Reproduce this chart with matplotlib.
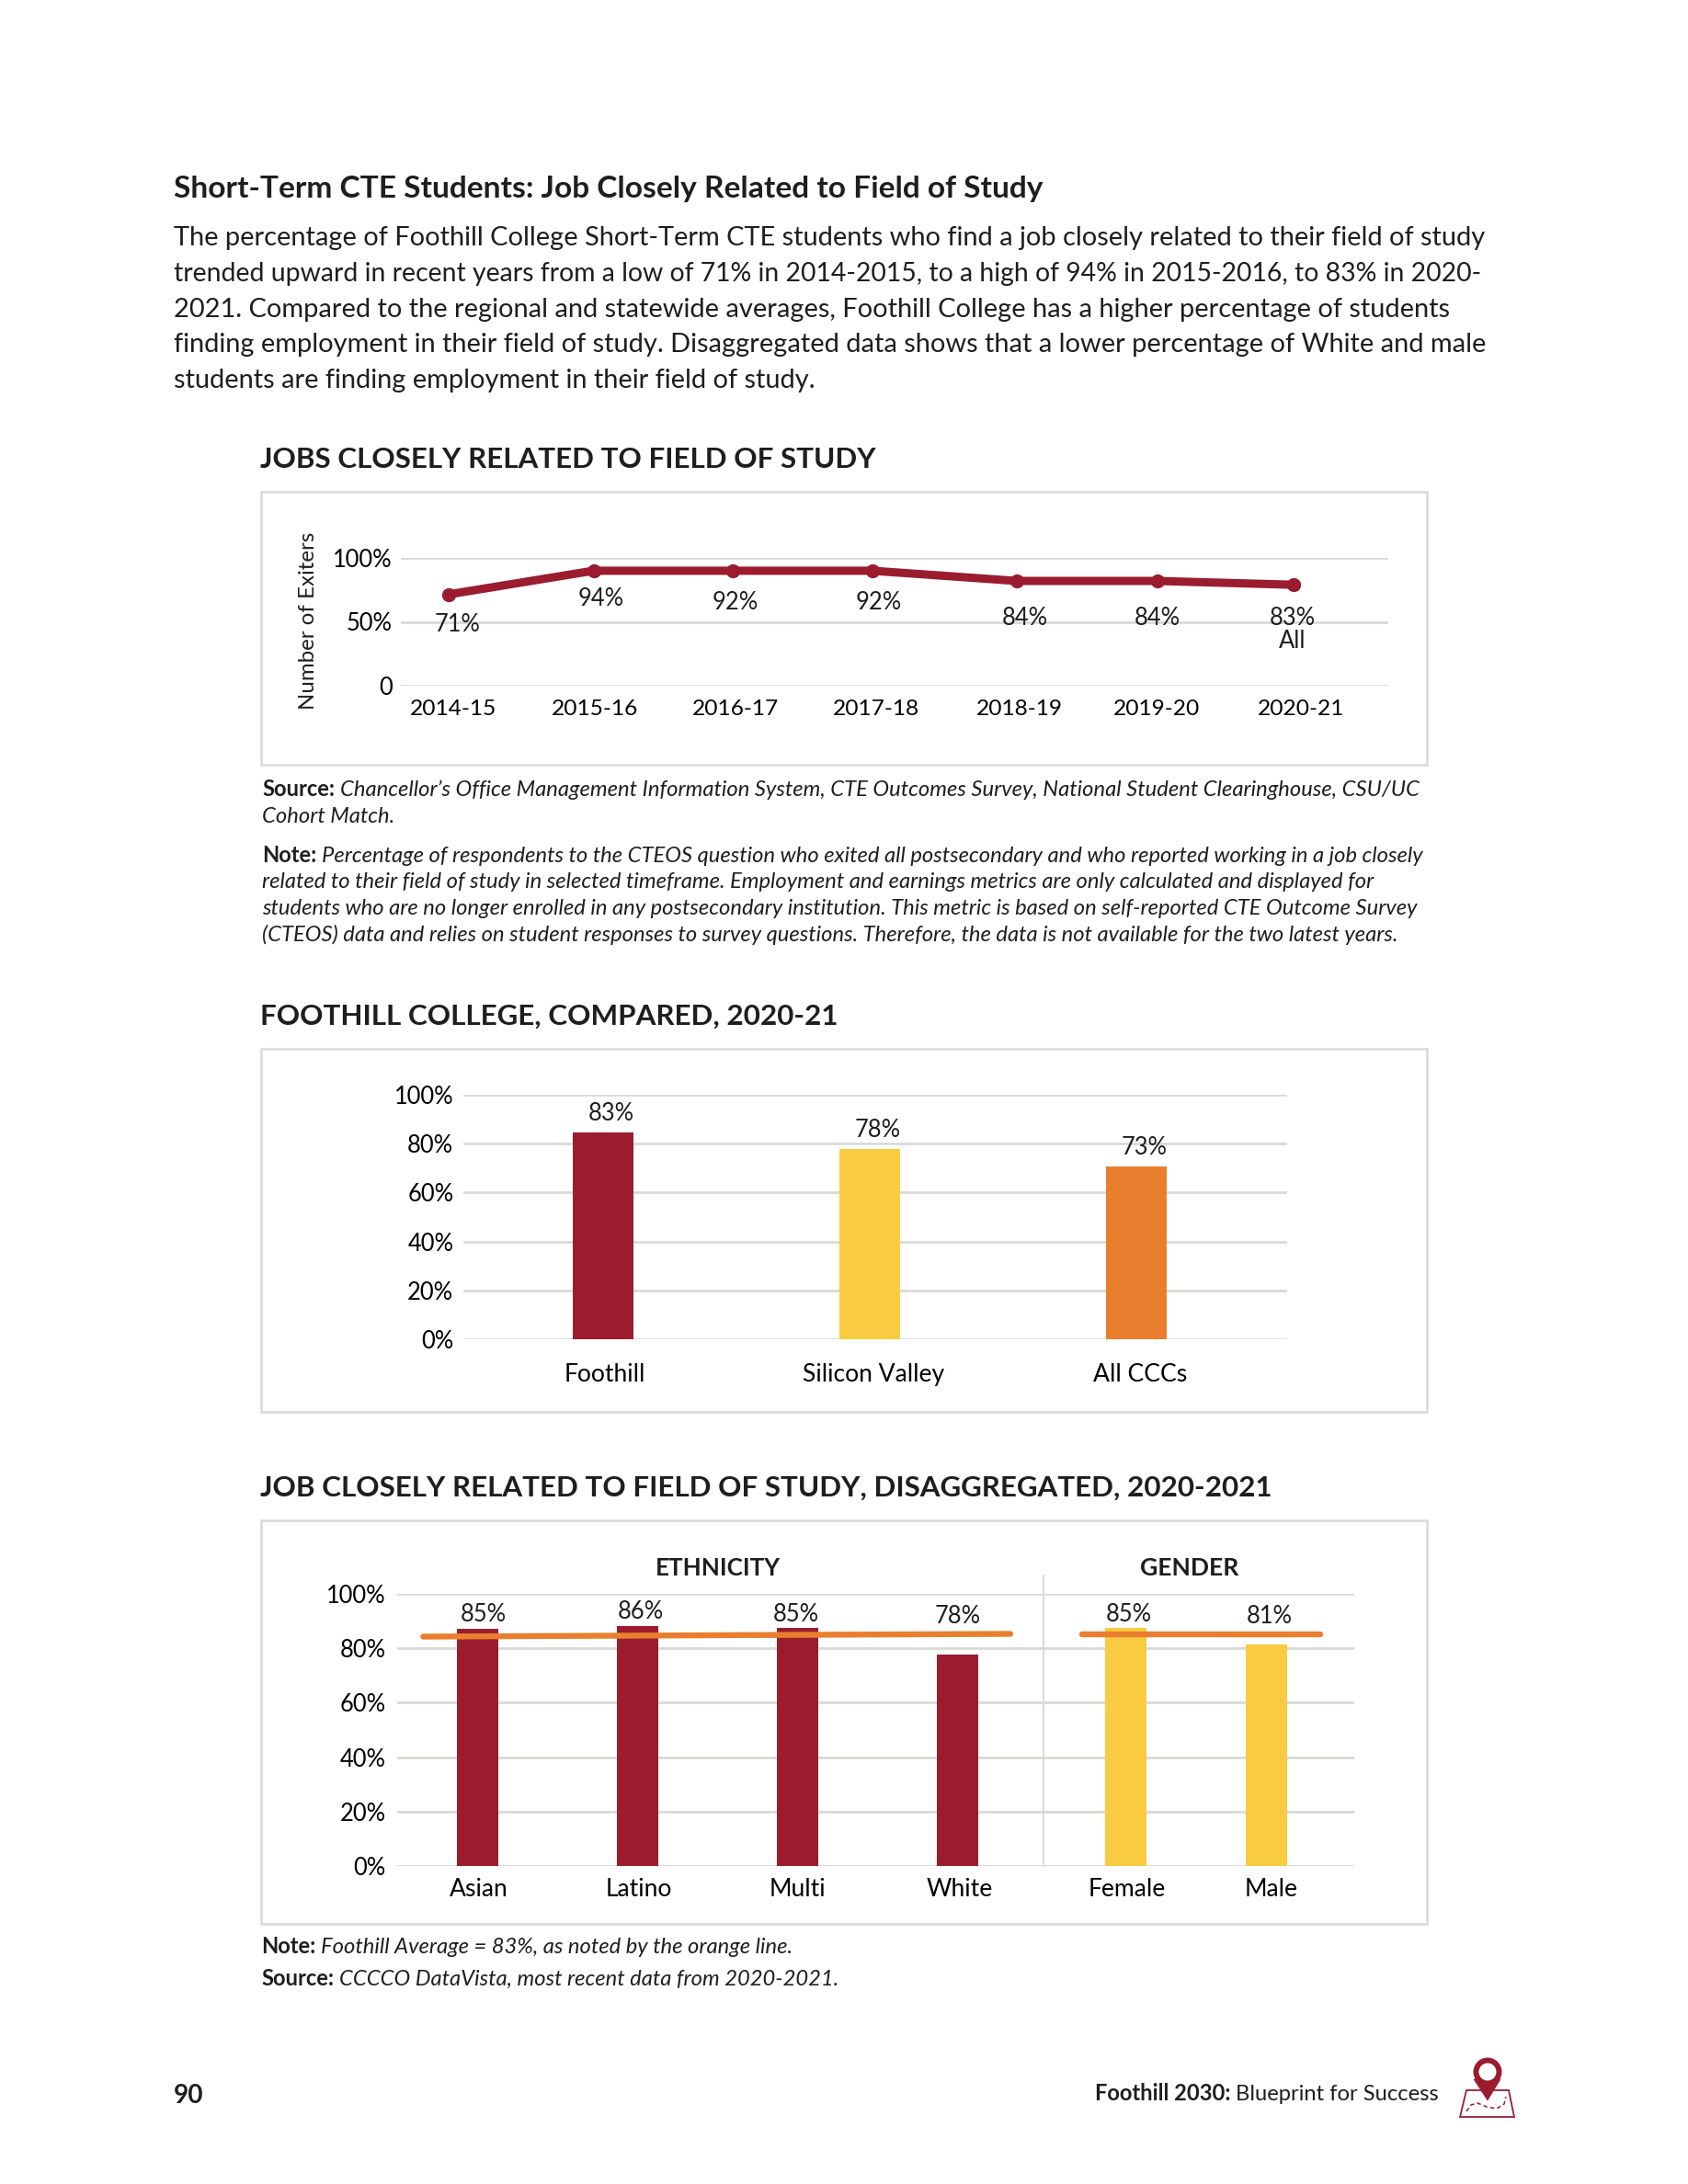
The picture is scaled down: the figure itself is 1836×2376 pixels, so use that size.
#!/usr/bin/env python3

import matplotlib
matplotlib.use('Agg')
import matplotlib.pyplot as plt
from matplotlib.patches import Circle, Polygon, Rectangle

# ---- data ----
trend_years = ['2014-15', '2015-16', '2016-17', '2017-18', '2018-19', '2019-20', '2020-21']
trend_line = [71.5, 90, 90, 90, 82, 82, 79]
trend_labels = ['71%', '94%', '92%', '92%', '84%', '84%', '83%']

compare_names = ['Foothill', 'Silicon Valley', 'All CCCs']
compare_bars = [84.7, 77.8, 70.5]
compare_labels = ['83%', '78%', '73%']

group_names = ['Asian', 'Latino', 'Multi', 'White', 'Female', 'Male']
group_bars = [87, 88.1, 87.4, 77.6, 87.4, 81.4]
group_labels = ['85%', '86%', '85%', '78%', '85%', '81%']
avg_ethnicity = [84.3, 85.3]
avg_gender = [85.3, 85.3]

body_lines = [
    'The percentage of Foothill College Short-Term CTE students who find a job closely related to their field of study',
    'trended upward in recent years from a low of 71% in 2014-2015, to a high of 94% in 2015-2016, to 83% in 2020-',
    '2021. Compared to the regional and statewide averages, Foothill College has a higher percentage of students',
    'finding employment in their field of study. Disaggregated data shows that a lower percentage of White and male',
    'students are finding employment in their field of study.',
]
source_1 = ['Chancellor\u2019s Office Management Information System, CTE Outcomes Survey, National Student Clearinghouse, CSU/UC',
            'Cohort Match.']
note_1 = ['Percentage of respondents to the CTEOS question who exited all postsecondary and who reported working in a job closely',
          'related to their field of study in selected timeframe. Employment and earnings metrics are only calculated and displayed for',
          'students who are no longer enrolled in any postsecondary institution. This metric is based on self-reported CTE Outcome Survey',
          '(CTEOS) data and relies on student responses to survey questions. Therefore, the data is not available for the two latest years.']

# ---- style ----
RED = '#9B1C2E'
YELLOW = '#F9CB40'
ORANGE = '#E97F2E'
GRID = '#D9D9D5'
INK = '#1E1E1E'
W, H = 1836, 2376

plt.rcParams['font.family'] = ['Lato', 'DejaVu Sans']
plt.rcParams['text.color'] = INK

fig = plt.figure(figsize=(W / 100, H / 100), dpi=100)
page = fig.add_axes([0, 0, 1, 1])
page.set_xlim(0, W)
page.set_ylim(H, 0)
page.axis('off')


def px(size):
    return size * 0.72


def put(x, y, s, size, **kw):
    return page.text(x, y, s, fontsize=px(size), va='baseline', **kw)


def put_runs(x, y, runs, size):
    # bold lead-in followed by italic text on the same baseline
    rend = fig.canvas.get_renderer()
    for s, kw in runs:
        t = put(x, y, s, size, **kw)
        x = page.transData.inverted().transform(t.get_window_extent(rend).corners()[2])[0] + size * 0.25


def chart_axes(x0, x1, y_top, y_bottom, ymax):
    ax = fig.add_axes([x0 / W, 1 - y_bottom / H, (x1 - x0) / W, (y_bottom - y_top) / H])
    ax.patch.set_alpha(0)
    for s in ax.spines.values():
        s.set_visible(False)
    ax.set_ylim(0, ymax)
    ax.tick_params(length=0)
    ax.grid(True, axis='y', color=GRID, linewidth=2)
    ax.set_axisbelow(True)
    return ax


def box(y0, y1):
    page.add_patch(Rectangle((284, y0), 1268, y1 - y0, fc='white', ec=GRID, lw=1.8))


# ---- page text ----
put(189, 215, 'Short-Term CTE Students: Job Closely Related to Field of Study', 33.5, fontweight='bold')
body_sizes = [29, 28.4, 29, 29, 29]
for yy, line, sz in zip([267, 306, 345, 383, 422], body_lines, body_sizes):
    put(189, yy, line, sz)

put(283, 509, 'JOBS CLOSELY RELATED TO FIELD OF STUDY', 31.4, fontweight='bold')
put(283, 1115, 'FOOTHILL COLLEGE, COMPARED, 2020-21', 31.4, fontweight='bold')
put(283, 1628, 'JOB CLOSELY RELATED TO FIELD OF STUDY, DISAGGREGATED, 2020-2021', 31.4, fontweight='bold')

put_runs(285, 866, [('Source:', dict(fontweight='bold')), (source_1[0], dict(style='italic'))], 23.7)
put(285, 895, source_1[1], 23.7, style='italic')
put_runs(285, 938, [('Note:', dict(fontweight='bold')), (note_1[0], dict(style='italic'))], 23.7)
for yy, line in zip([966, 995, 1024], note_1[1:]):
    put(285, yy, line, 23.7, style='italic')
put_runs(284, 2125, [('Note:', dict(fontweight='bold')), ('Foothill Average = 83%, as noted by the orange line.', dict(style='italic'))], 23.7)
put_runs(284, 2160, [('Source:', dict(fontweight='bold')), ('CCCCO DataVista, most recent data from 2020-2021.', dict(style='italic'))], 23.7)

# ---- line chart ----
box(535, 832)
ax1 = chart_axes(436, 1510, 607, 746, 100)
x1 = list(range(len(trend_years)))
point_nudge = [0, 0.03, 0.02, 0.01, 0.04, 0.04, 0.01]
ax1.set_xlim(-0.34, 6.68)
ax1.plot([a + b for a, b in zip(x1, point_nudge)], trend_line, color=RED, linewidth=6.5,
         marker='o', markersize=10, clip_on=False)
ax1.set_yticks([0, 50, 100])
ax1.set_yticklabels(['0', '50%', '100%'], fontsize=px(25.5))
ax1.tick_params(axis='y', pad=6.5)
tick_nudge = [0.03, 0.04, 0.04, 0.04, 0.06, 0.03, 0.06]
ax1.set_xticks([a + b for a, b in zip(x1, tick_nudge)])
ax1.set_xticklabels(trend_years, fontsize=px(24.5))
ax1.tick_params(axis='x', pad=11)
label_y = [47.5, 68, 65, 65, 53, 53, 53]
label_nudge = [0.06, 0.08, 0.04, 0.06, 0.10, 0.04, 0]
for xx, nn, yy, lab in zip(x1, label_nudge, label_y, trend_labels):
    ax1.text(xx + nn, yy, lab, ha='center', va='center', fontsize=px(25.5))
ax1.text(6.0, 35, 'All', ha='center', va='center', fontsize=px(25.5))
page.text(335, 675, 'Number of Exiters', rotation=90, ha='center', va='center', fontsize=px(24))

# ---- compare chart ----
box(1141, 1536)
ax2 = chart_axes(504, 1400, 1191, 1457, 100)
x2 = list(range(len(compare_names)))
ax2.set_xlim(-0.524, 2.566)
ax2.bar(x2, compare_bars, width=0.23, color=[RED, YELLOW, ORANGE])
ax2.set_yticks(range(0, 101, 20))
ax2.set_yticklabels([f'{v}%' for v in range(0, 101, 20)], fontsize=px(25.5))
ax2.tick_params(axis='y', pad=7.7)
ax2.set_xticks([a + b for a, b in zip(x2, [0.005, 0.015, 0.015])])
ax2.set_xticklabels(compare_names, fontsize=px(26.5))
ax2.tick_params(axis='x', pad=18.5)
for xx, yy, lab in zip(x2, compare_bars, compare_labels):
    ax2.text(xx + 0.03, yy + 3, lab, ha='center', va='bottom', fontsize=px(25.5))

# ---- disaggregated chart ----
box(1654, 2093)
ax3 = chart_axes(432, 1473, 1734, 2030, 100)
x3 = [0, 1, 2, 3, 4.05, 4.93]
ax3.set_xlim(-0.503, 5.48)
ax3.bar(x3, group_bars, width=0.26, color=[RED] * 4 + [YELLOW] * 2)
ax3.plot([-0.34, 3.33], avg_ethnicity, color=ORANGE, linewidth=4.6, solid_capstyle='round')
ax3.plot([3.78, 5.27], avg_gender, color=ORANGE, linewidth=4.6, solid_capstyle='round')
ax3.plot([3.535, 3.535], [0, 106.7], color=GRID, linewidth=1.4, clip_on=False)
ax3.set_yticks(range(0, 101, 20))
ax3.set_yticklabels([f'{v}%' for v in range(0, 101, 20)], fontsize=px(25.5))
ax3.tick_params(axis='y', pad=8.7)
ax3.set_xticks([a + b for a, b in zip(x3, [0.01, 0.01, 0, 0.01, 0.01, 0.03])])
ax3.set_xticklabels(group_names, fontsize=px(26.5))
ax3.tick_params(axis='x', pad=9.7)
group_label_y = [92.3, 93.3, 92.3, 91.8, 92.3, 91.8]
group_nudge = [0.035, 0.02, -0.01, 0, 0.02, 0.02]
for xx, nn, yy, lab in zip(x3, group_nudge, group_label_y, group_labels):
    ax3.text(xx + nn, yy, lab, ha='center', va='center', fontsize=px(25.5))
page.text(781, 1706, 'ETHNICITY', ha='center', va='center', fontsize=px(26), fontweight='bold')
page.text(1294, 1706, 'GENDER', ha='center', va='center', fontsize=px(26.5), fontweight='bold')

# ---- footer ----
put(189, 2288, '90', 28, fontweight='bold')
put_runs(1191, 2285, [('Foothill 2030:', dict(fontweight='bold')), ('Blueprint for Success', dict())], 23.8)

page.add_patch(Polygon([(1595, 2274), (1641, 2274), (1647, 2303), (1588, 2303)], closed=True, fc='none', ec=RED, lw=1.3))
page.plot([1595, 1600, 1607, 1617, 1628, 1636, 1638], [2297, 2290, 2288, 2292, 2294, 2289, 2281],
          color=RED, lw=1.1, ls=(0, (3, 2)))
page.add_patch(Polygon([(1603, 2262), (1632, 2262), (1618, 2285)], closed=True, fc=RED, ec=RED, lw=0.5))
page.add_patch(Circle((1618, 2254), 15.5, fc=RED, ec='none'))
page.add_patch(Circle((1618, 2254), 9.5, fc='white', ec='none'))

fig.savefig('out.png', dpi=100)
